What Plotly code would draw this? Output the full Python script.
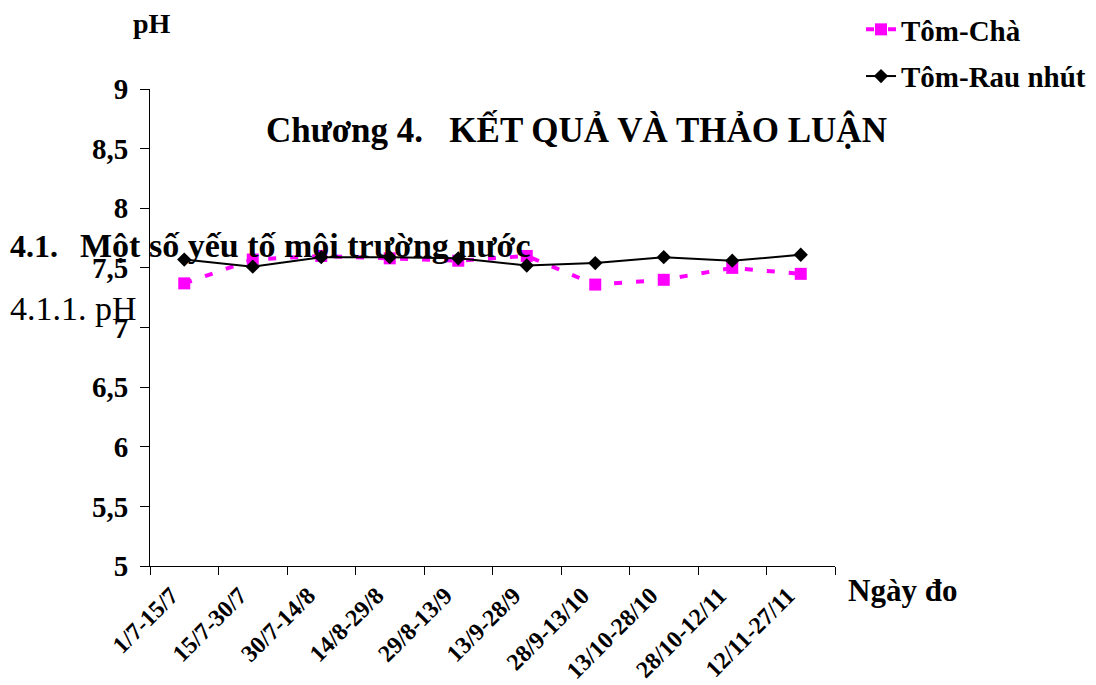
import plotly.graph_objects as go

# ---- data ----
periods = ["1/7-15/7", "15/7-30/7", "30/7-14/8", "14/8-29/8", "29/8-13/9",
           "13/9-28/9", "28/9-13/10", "13/10-28/10", "28/10-12/11", "12/11-27/11"]
ph_tom_cha = [7.37, 7.57, 7.60, 7.58, 7.56, 7.60, 7.36, 7.40, 7.50, 7.45]
ph_tom_rau_nhut = [7.57, 7.51, 7.59, 7.59, 7.58, 7.52, 7.54, 7.59, 7.56, 7.61]
series_names = ["Tôm-Chà", "Tôm-Rau nhút"]
y_ticks = [5, 5.5, 6, 6.5, 7, 7.5, 8, 8.5, 9]

W, H = 1096, 685
L, R, T, B = 150, 261, 89, 119
PW, PH_ = W - L - R, H - T - B
FONT = "Liberation Serif"


def px_x(x):
    return (x - L) / PW


def px_y(y):
    return (H - B - y) / PH_


fig = go.Figure()
fig.add_trace(go.Scatter(
    x=periods, y=ph_tom_cha, name=series_names[0], mode="lines+markers",
    legendgroup="a",
    line=dict(color="#FF00FF", width=4, dash="8px,14px"),
    marker=dict(symbol="square", size=12, color="#FF00FF"),
))
fig.add_trace(go.Scatter(
    x=periods, y=ph_tom_rau_nhut, name=series_names[1], mode="lines+markers",
    legendgroup="b",
    line=dict(color="black", width=2),
    marker=dict(symbol="diamond", size=11, color="black"),
))

annotations = [
    dict(text="Chương 4.   KẾT QUẢ VÀ THẢO LUẬN", x=px_x(576), y=px_y(130),
         xanchor="center", yanchor="middle", font=dict(size=35, weight="bold")),
    dict(text="4.1.", x=px_x(8), y=px_y(246), xanchor="left", yanchor="middle",
         font=dict(size=32, weight="bold")),
    dict(text="Một số yếu tố môi trường nước", x=px_x(78), y=px_y(246),
         xanchor="left", yanchor="middle", font=dict(size=34, weight="bold")),
    dict(text="4.1.1. pH", x=px_x(8), y=px_y(308), xanchor="left", yanchor="middle",
         font=dict(size=34)),
    dict(text="pH", x=px_x(152), y=px_y(24), xanchor="center", yanchor="middle",
         font=dict(size=28, weight="bold")),
    dict(text="Ngày đo", x=px_x(846), y=px_y(590), xanchor="left", yanchor="middle",
         font=dict(size=31, weight="bold")),
]
for a in annotations:
    a.update(xref="paper", yref="paper", showarrow=False)
    a["font"].update(family=FONT, color="black")

fig.update_layout(
    width=W, height=H, autosize=False,
    margin=dict(l=L, r=R, t=T, b=B, pad=0, autoexpand=False),
    paper_bgcolor="white", plot_bgcolor="white",
    separators=", ",
    font=dict(family=FONT, color="black"),
    showlegend=True,
    legend=dict(
        xref="container", yref="container",
        x=861 / W, y=1 - 4 / H, xanchor="left", yanchor="top",
        font=dict(family=FONT, size=29, color="black", weight="bold"),
        bgcolor="rgba(0,0,0,0)", borderwidth=0,
        tracegroupgap=6,
    ),
    annotations=annotations,
)
fig.update_xaxes(
    type="category", range=[-0.5, len(periods) - 0.5], automargin=False,
    showline=True, linecolor="black", linewidth=1,
    ticks="outside", tickson="boundaries", ticklen=8, tickcolor="black", tickwidth=1,
    tickangle=-45, tickfont=dict(family=FONT, size=24, color="black", weight="bold"),
    ticklabelshift=-13, ticklabelstandoff=5,
    showgrid=False, zeroline=False,
)
fig.update_yaxes(
    range=[5, 9], tickvals=y_ticks, automargin=False,
    showline=True, linecolor="black", linewidth=1,
    ticks="outside", ticklen=9, tickcolor="black", tickwidth=1,
    tickfont=dict(family=FONT, size=29, color="black", weight="bold"),
    ticklabelstandoff=6,
    showgrid=False, zeroline=False,
)

fig.write_html("out.html")
